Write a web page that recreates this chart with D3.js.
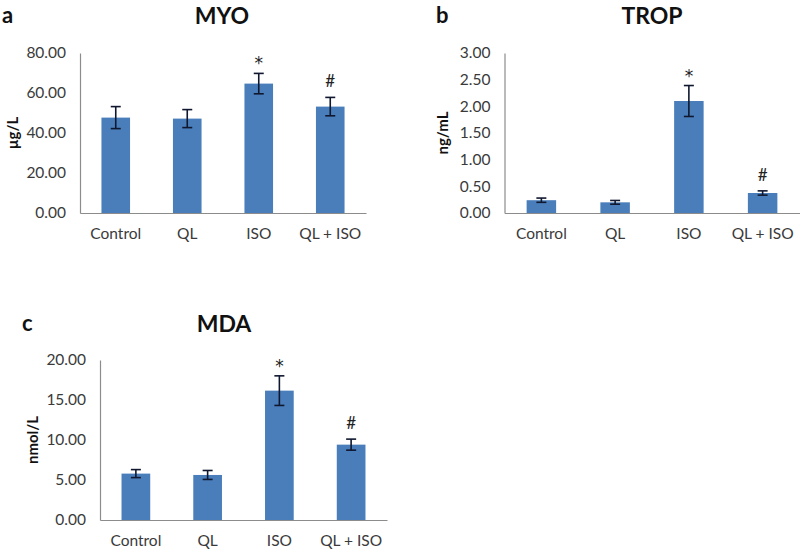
<!DOCTYPE html>
<html><head><meta charset="utf-8">
<script src="https://cdn.jsdelivr.net/npm/d3@7"></script>
<style>
body{margin:0;background:#fff;}
svg{display:block;font-family:Lato,"Open Sans",sans-serif;}
</style></head>
<body>
<svg id="chart" width="800" height="553"></svg>
<script>
const categories = ["Control", "QL", "ISO", "QL + ISO"];
const markers = ["", "", "*", "#"];

const myoMeans = [47.7, 47.2, 64.7, 53.2];
const myoErrors = [5.5, 4.5, 5.1, 4.6];
const myoTicks = [0, 20, 40, 60, 80];

const tropMeans = [0.24, 0.20, 2.10, 0.375];
const tropErrors = [0.04, 0.035, 0.29, 0.04];
const tropTicks = [0, 0.5, 1.0, 1.5, 2.0, 2.5, 3.0];

const mdaMeans = [5.8, 5.63, 16.17, 9.42];
const mdaErrors = [0.5, 0.56, 1.85, 0.69];
const mdaTicks = [0, 5, 10, 15, 20];

const panels = [
  {letter:"a", title:"MYO", unit:"µg/L", means:myoMeans, errs:myoErrors, ticks:myoTicks,
   x0:80, x1:366, yTop:53, yBot:213, letterX:2, titleX:222, titleY:15, unitX:13},
  {letter:"b", title:"TROP", unit:"ng/mL", means:tropMeans, errs:tropErrors, ticks:tropTicks,
   x0:504.5, x1:799.5, yTop:53, yBot:213, letterX:436, titleX:652, titleY:15, unitX:443},
  {letter:"c", title:"MDA", unit:"nmol/L", means:mdaMeans, errs:mdaErrors, ticks:mdaTicks,
   x0:100, x1:387, yTop:360, yBot:520, letterX:22, titleX:224, titleY:323, unitX:33}
];

const svg = d3.select("#chart");

panels.forEach(p => {
  const g = svg.append("g");
  const x = d3.scaleBand().domain(categories).range([p.x0, p.x1]).paddingInner(0.6).paddingOuter(0.3);
  const y = d3.scaleLinear().domain([p.ticks[0], p.ticks[p.ticks.length-1]]).range([p.yBot, p.yTop]);

  // titles (baseline placed so cap letters centre on titleY)
  g.append("text").attr("x", p.letterX).attr("y", p.titleY + 8)
    .attr("font-size", 22).attr("font-weight", "bold").attr("fill", "#111").text(p.letter);
  g.append("text").attr("x", p.titleX).attr("y", p.titleY + 8.5)
    .attr("text-anchor","middle").attr("font-size", 23).attr("font-weight", "bold").attr("fill", "#111").text(p.title);

  // y axis
  const yAxis = d3.axisLeft(y).tickValues(p.ticks).tickSize(0).tickPadding(14).tickFormat(d3.format(".2f"));
  const ya = g.append("g").attr("transform", `translate(${p.x0},0)`).call(yAxis);
  ya.select(".domain").attr("stroke", "#8c8c8c").attr("stroke-width", 1.2);
  ya.selectAll("text").attr("font-size", 15.5).attr("fill", "#3a3a3a").attr("font-family","Lato,'Open Sans',sans-serif");

  // x axis
  const xAxis = d3.axisBottom(x).tickSize(0).tickPadding(15);
  const xa = g.append("g").attr("transform", `translate(0,${p.yBot})`).call(xAxis);
  xa.select(".domain").attr("stroke", "#8c8c8c").attr("stroke-width", 1.2);
  xa.selectAll("text").attr("font-size", 15.5).attr("fill", "#3a3a3a").attr("font-family","Lato,'Open Sans',sans-serif");

  // unit label
  g.append("text").attr("transform", `translate(${p.unitX},${(p.yTop+p.yBot)/2}) rotate(-90)`)
    .attr("dy","0.35em").attr("text-anchor","middle").attr("font-size", 15).attr("font-weight","bold")
    .attr("fill","#111").text(p.unit);

  // bars
  g.selectAll("rect.bar").data(categories).join("rect").attr("class","bar")
    .attr("x", d => x(d)).attr("width", x.bandwidth())
    .attr("y", (d,i) => y(p.means[i])).attr("height", (d,i) => y(0) - y(p.means[i]))
    .attr("fill", "#4a7ebb");

  // error bars
  const cap = 5;
  categories.forEach((c,i) => {
    const cx = x(c) + x.bandwidth()/2;
    const hi = y(p.means[i] + p.errs[i]), lo = y(p.means[i] - p.errs[i]);
    const eg = g.append("g").attr("stroke", "#101830").attr("stroke-width", 1.6);
    eg.append("line").attr("x1", cx).attr("x2", cx).attr("y1", hi).attr("y2", lo);
    eg.append("line").attr("x1", cx-cap).attr("x2", cx+cap).attr("y1", hi).attr("y2", hi);
    eg.append("line").attr("x1", cx-cap).attr("x2", cx+cap).attr("y1", lo).attr("y2", lo);
    if (markers[i] === "*") {
      g.append("text").attr("x", cx).attr("y", hi - 4).attr("text-anchor","middle")
        .attr("font-size", 17).attr("font-family","'DejaVu Sans',sans-serif").attr("fill","#222")
        .text(markers[i]);
    } else if (markers[i]) {
      g.append("text").attr("x", cx).attr("y", hi - 10).attr("text-anchor","middle")
        .attr("font-size", 17).attr("fill","#222")
        .text(markers[i]);
    }
  });
});
</script>
</body></html>
